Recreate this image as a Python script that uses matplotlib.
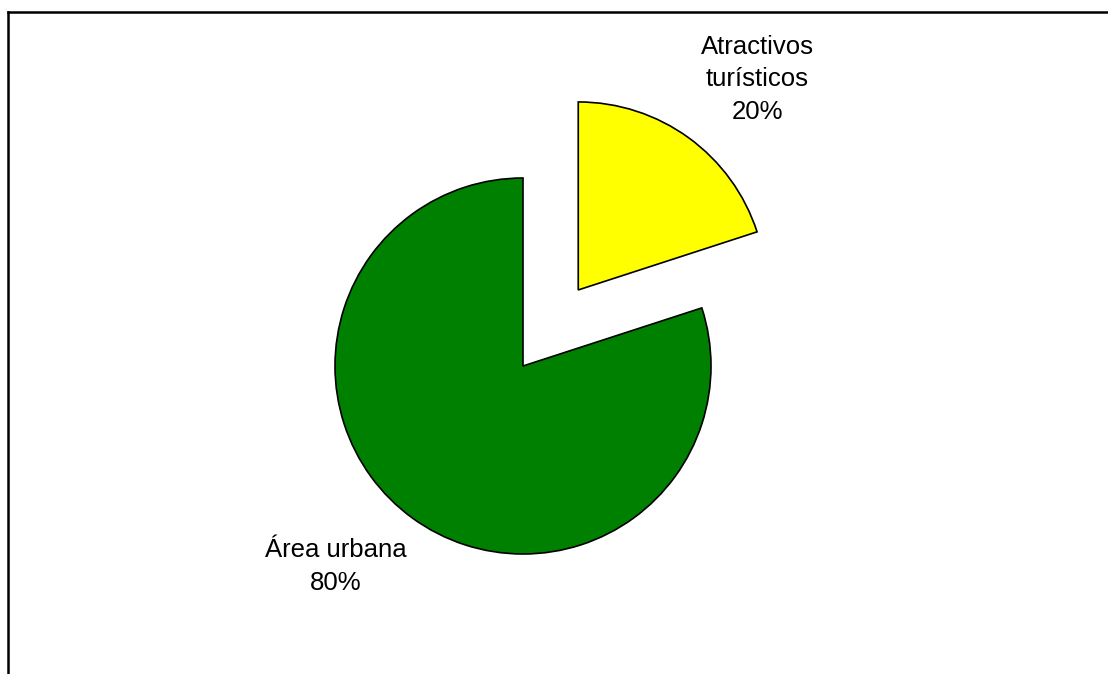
import matplotlib
matplotlib.use("Agg")
import matplotlib.pyplot as plt
from matplotlib.lines import Line2D
import numpy as np

plt.rcParams['font.family'] = ['Liberation Sans', 'DejaVu Sans']

# Datos
categorias = ["Atractivos\nturísticos", "Área urbana"]
valores = [20, 80]
colores = ["#FFFF00", "#008000"]
separacion = [0.5, 0]

W, H = 1108, 674
fig = plt.figure(figsize=(W / 100, H / 100), dpi=100)
ax = fig.add_axes([0, 0, 1, 1])

wedges, textos = ax.pie(valores, colors=colores, explode=separacion,
                        startangle=90, counterclock=False,
                        wedgeprops=dict(edgecolor="black", linewidth=1.2))

# Etiquetas con nombre y porcentaje (posición aproximada a la de Excel)
total = sum(valores)
etiquetas = [f"{c}\n{v / total * 100:.0f}%" for c, v in zip(categorias, valores)]
dist = [1.47, 1.46]
desvio = [-4.4, -7.0]  # grados
for w, lab, d, dg in zip(wedges, etiquetas, dist, desvio):
    ang = np.deg2rad((w.theta1 + w.theta2) / 2 + dg)
    cx, cy = w.center
    ax.text(cx + d * np.cos(ang), cy + d * np.sin(ang), lab,
            ha="center", va="center", fontsize=18.5, linespacing=1.45)

# Ubicar el centro del pastel como en el original (radio 188 px)
r = 188
cx_px, cy_px = 523, 366
ax.set_xlim(-cx_px / r, (W - cx_px) / r)
ax.set_ylim(-(H - cy_px) / r, cy_px / r)
ax.set_aspect("auto")
ax.axis("off")

# Marco del grafico
x0, y0 = 7.5 / W, 1 - 11.5 / H
fig.add_artist(Line2D([x0, x0], [0, y0], color="black", lw=1.8, transform=fig.transFigure))
fig.add_artist(Line2D([x0, 1], [y0, y0], color="black", lw=1.8, transform=fig.transFigure))

fig.savefig("out.png", dpi=100)
